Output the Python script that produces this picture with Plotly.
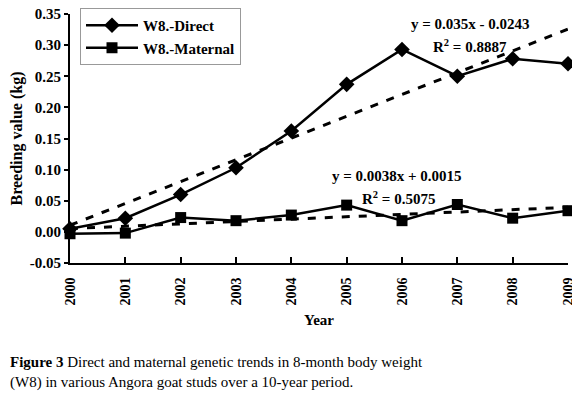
import plotly.graph_objects as go

years = [2000, 2001, 2002, 2003, 2004, 2005, 2006, 2007, 2008, 2009]
direct = [0.005, 0.022, 0.060, 0.103, 0.162, 0.237, 0.293, 0.250, 0.278, 0.270]
maternal = [-0.003, -0.002, 0.023, 0.018, 0.027, 0.043, 0.018, 0.044, 0.022, 0.034]
trend_years = [2000, 2009]
direct_trend = [0.0107, 0.3257]
maternal_trend = [0.0053, 0.0395]

FONT = "Liberation Serif"
# page body has an 8px margin: figure pixel = reference pixel - 8
OFF = 8
FW, FH = 580 - OFF, 399 - 2 * OFF
L, R, T, B = 70 - OFF, 568 - OFF, 14 - OFF, 263 - OFF

fig = go.Figure()
fig.add_trace(go.Scatter(x=trend_years, y=direct_trend, mode="lines",
                         line=dict(color="black", width=3, dash="8px,9px"),
                         showlegend=False, hoverinfo="skip", cliponaxis=False))
fig.add_trace(go.Scatter(x=trend_years, y=maternal_trend, mode="lines",
                         line=dict(color="black", width=3, dash="8px,9px"),
                         showlegend=False, hoverinfo="skip", cliponaxis=False))
fig.add_trace(go.Scatter(x=years, y=direct, mode="lines+markers", name="<b>W8.-Direct</b>",
                         line=dict(color="black", width=2.5),
                         marker=dict(symbol="diamond", size=12, color="black"),
                         cliponaxis=False))
fig.add_trace(go.Scatter(x=years, y=maternal, mode="lines+markers", name="<b>W8.-Maternal</b>",
                         line=dict(color="black", width=2.5),
                         marker=dict(symbol="square", size=11, color="black"),
                         cliponaxis=False))

W, H = R - L, B - T
def px(xp): return (xp - OFF - L) / W
def py(yp): return 1 - (yp - OFF - T) / H

yticks = [-0.05, 0, 0.05, 0.1, 0.15, 0.2, 0.25, 0.3, 0.35]
fig.update_layout(
    width=FW, height=FH,
    margin=dict(l=L, r=FW - R, t=T, b=FH - B, autoexpand=False),
    paper_bgcolor="white", plot_bgcolor="white",
    font=dict(family=FONT, color="black", size=14),
    showlegend=True,
    legend=dict(x=px(80), y=py(8), xanchor="left", yanchor="top",
                bgcolor="white", bordercolor="#999999", borderwidth=1,
                font=dict(family=FONT, size=15, color="black"),
                tracegroupgap=0, itemwidth=52),
    xaxis=dict(range=[2000, 2009], tickmode="array", tickvals=years,
               ticktext=[f"<b>{y}</b>" for y in years], tickangle=-90,
               showline=True, linecolor="black", linewidth=2,
               ticks="inside", ticklen=6, tickwidth=2, tickcolor="black",
               showgrid=False, zeroline=False, automargin=False,
               ticklabelstandoff=7, ticklabeloverflow="allow",
               tickfont=dict(family=FONT, size=14),
               title=dict(text="<b>Year</b>", font=dict(family=FONT, size=15), standoff=10)),
    yaxis=dict(range=[-0.05, 0.35], tickmode="array",
               tickvals=yticks,
               ticktext=[f"<b>{v:.2f}</b>" for v in yticks],
               showline=True, linecolor="black", linewidth=2,
               ticks="outside", ticklen=4, tickwidth=2, tickcolor="black",
               showgrid=False, zeroline=False, automargin=False,
               ticklabeloverflow="allow",
               tickfont=dict(family=FONT, size=15),
               title=dict(text="<b>Breeding value (kg)</b>", font=dict(family=FONT, size=16), standoff=9)),
)

def ann(text, x, y, size=15):
    fig.add_annotation(text=text, x=x, y=y, xref="paper", yref="paper",
                       xanchor="center", yanchor="middle", showarrow=False,
                       font=dict(family=FONT, size=size, color="black"))

ann("<b>y = 0.035x - 0.0243</b>", px(470), py(24))
ann("<b>R<sup>2</sup> = 0.8887</b>", px(470), py(46))
ann("<b>y = 0.0038x + 0.0015</b>", px(397), py(176))
ann("<b>R<sup>2</sup> = 0.5075</b>", px(398), py(198))

fig.add_annotation(text="<b>Figure 3</b> Direct and maternal genetic trends in 8-month body weight<br>(W8) in various Angora goat studs over a 10-year period.",
                   x=0, y=py(352), xref="paper", yref="paper", xshift=-L,
                   xanchor="left", yanchor="top", align="left", showarrow=False,
                   font=dict(family=FONT, size=15, color="black"))

fig.write_html("out.html")
